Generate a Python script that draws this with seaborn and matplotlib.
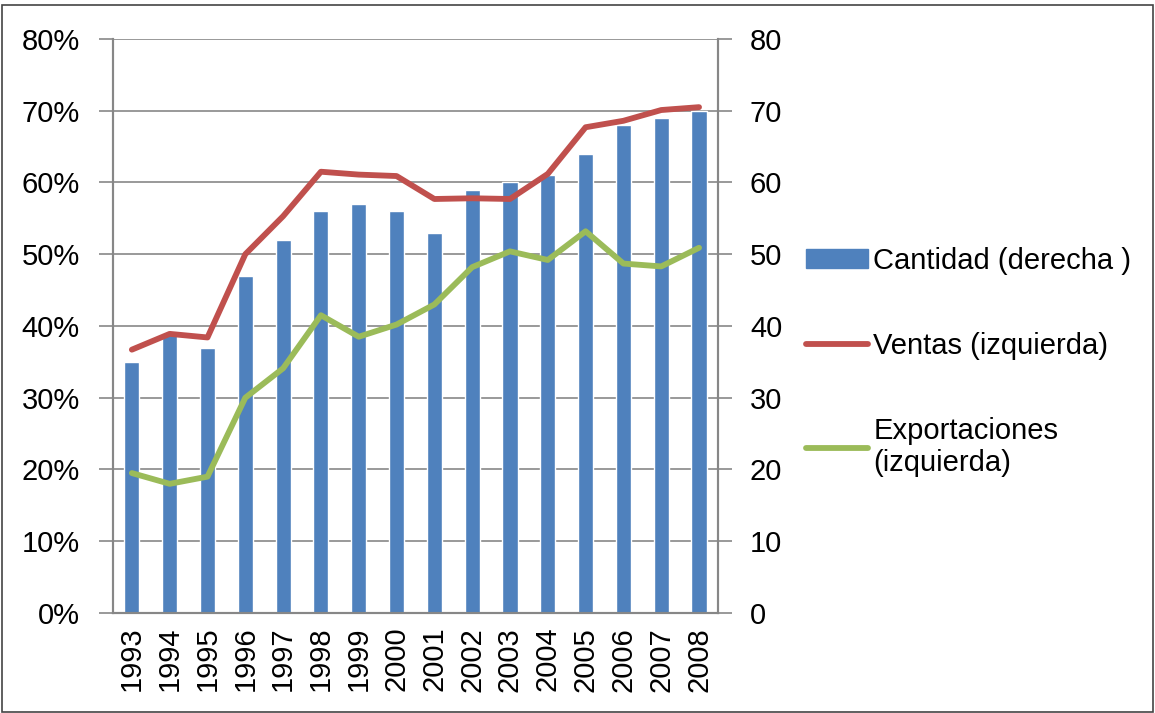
import numpy as np
import pandas as pd
import seaborn as sns
import matplotlib
matplotlib.use("Agg")
import matplotlib.pyplot as plt
from matplotlib.patches import Rectangle
from matplotlib.lines import Line2D
from matplotlib.ticker import FuncFormatter

# Data
years = ["1993", "1994", "1995", "1996", "1997", "1998", "1999", "2000",
         "2001", "2002", "2003", "2004", "2005", "2006", "2007", "2008"]
cantidad = [35, 39, 37, 47, 52, 56, 57, 56, 53, 59, 60, 61, 64, 68, 69, 70]
ventas = [36.7, 38.9, 38.4, 50.0, 55.3, 61.5, 61.1, 60.9,
          57.7, 57.8, 57.7, 61.2, 67.7, 68.6, 70.1, 70.5]
exportaciones = [19.5, 18.0, 19.0, 30.0, 34.1, 41.5, 38.5, 40.2,
                 43.0, 48.2, 50.4, 49.2, 53.2, 48.7, 48.3, 50.9]

BLUE = "#4F81BD"
RED = "#C0504D"
GREEN = "#9BBB59"
GRID = "#878787"
LW = 4.2

sns.set_style("white")
plt.rcParams["font.family"] = ["Liberation Sans", "DejaVu Sans"]
plt.rcParams["text.color"] = "black"
plt.rcParams["xtick.color"] = "black"
plt.rcParams["ytick.color"] = "black"
FS = 21

df = pd.DataFrame({"year": years, "cantidad": cantidad,
                   "ventas": np.array(ventas) / 100,
                   "exportaciones": np.array(exportaciones) / 100})
pos = np.arange(len(years))

fig = plt.figure(figsize=(11.55, 7.13), dpi=100)
ax = fig.add_axes([0.0978, 0.1403, 0.5238, 0.805])

#%% bars (right axis scale) on the main axes
sns.barplot(data=df, x="year", y="cantidad", color=BLUE, width=0.4,
            saturation=1, ax=ax, zorder=2)
ax.set_xlim(-0.5, len(years) - 0.5)
ax.set_ylim(0, 80)
ax.set_yticks(np.arange(0, 81, 10))
ax.yaxis.grid(True, color=GRID, linewidth=1.2, zorder=0)
ax.set_axisbelow(True)
ax.set_xlabel("")
ax.set_ylabel("")

#%% lines (left axis scale) on a twin
ax2 = ax.twinx()
sns.lineplot(x=pos, y=df["ventas"], color=RED, linewidth=LW, ax=ax2,
             solid_capstyle="round")
sns.lineplot(x=pos, y=df["exportaciones"], color=GREEN, linewidth=LW, ax=ax2,
             solid_capstyle="round")
ax2.set_ylim(0, 0.8)
ax2.set_yticks(np.arange(0, 0.81, 0.1))
ax2.yaxis.set_major_formatter(FuncFormatter(lambda v, p: "{:.0f}%".format(v * 100)))
ax2.set_ylabel("")

# swap sides: bar scale on the right, percent scale on the left
ax.tick_params(axis="y", which="major", direction="out", length=10, width=1.2,
               color=GRID, labelcolor="black", labelsize=FS, pad=13,
               right=True, left=False, labelright=True, labelleft=False)
ax2.tick_params(axis="y", which="major", direction="out", length=10, width=1.2,
                color=GRID, labelcolor="black", labelsize=FS, pad=14,
                left=True, right=False, labelleft=True, labelright=False)
ax.set_xticks(pos)
ax.set_xticklabels(years, rotation=90)
ax.set_xticks(np.arange(-0.5, len(years)), minor=True)
ax.tick_params(axis="x", which="major", length=0, labelsize=FS, pad=10,
               labelcolor="black")
ax.tick_params(axis="x", which="minor", direction="out", length=10, width=1.2,
               color=GRID)
for a in (ax, ax2):
    a.spines["top"].set_visible(False)
    for side in ("left", "right", "bottom"):
        a.spines[side].set_color(GRID)
        a.spines[side].set_linewidth(1.5)

#%% legend
handles = [Rectangle((0, 0), 1, 1, color=BLUE),
           Line2D([], [], color=RED, linewidth=LW, solid_capstyle="round"),
           Line2D([], [], color=GREEN, linewidth=LW, solid_capstyle="round")]
labels = ["Cantidad (derecha )", "Ventas (izquierda)", "Exportaciones\n(izquierda)"]
fig.legend(handles, labels, loc="upper left", bbox_to_anchor=(0.688, 0.67),
           frameon=False, fontsize=FS, labelspacing=1.95, handlelength=2.1,
           handleheight=0.6, handletextpad=0.2, borderaxespad=0)

# outer frame
fig.patches.append(Rectangle((0.002, 0.002), 0.996, 0.991, transform=fig.transFigure,
                             fill=False, edgecolor="#444444", linewidth=1.2))

fig.savefig("out.png", dpi=100)
